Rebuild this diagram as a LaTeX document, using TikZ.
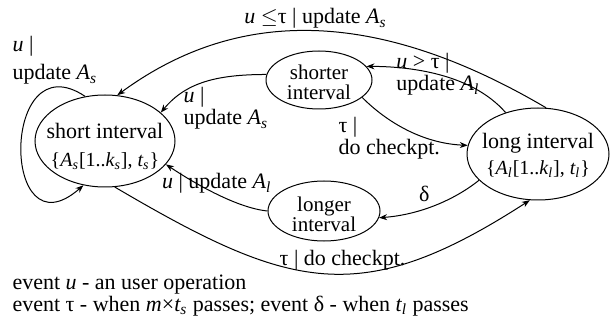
\documentclass[tikz,border=0pt]{standalone}
\usepackage{amsmath}
\usepackage{fontspec}
\setmainfont{Liberation Serif}
\usetikzlibrary{shapes.geometric,arrows.meta}

% italic letter with italic subscript, e.g. A_s
\newcommand{\isub}[2]{$\textit{#1}_{\textit{#2}}$}

\begin{document}
\begin{tikzpicture}[x=0.5pt, y=-0.5pt,
  state/.style={draw, ellipse, inner sep=0pt},
  statetext/.style={align=center, inner sep=0pt},
  lbl/.style={inner sep=0pt, align=left},
  every node/.append style={font=\fontsize{11}{11}\selectfont},
  >={Stealth[length=4pt, width=3pt]}, line width=0.5pt]
\useasboundingbox (0,0) rectangle (611,326);

% the four states
\node[state, minimum width=70pt, minimum height=46pt] (short) at (105,141) {};
\node[state, minimum width=53pt, minimum height=29pt] (shorter) at (319,80) {};
\node[state, minimum width=71pt, minimum height=46pt] (long) at (538,154) {};
\node[state, minimum width=56pt, minimum height=30pt] (longer) at (324,211) {};

\node[statetext, font=\fontsize{11}{14}\selectfont] (shortTxt) at (105,146)
  {short interval\\{\fontsize{10}{14}\selectfont\{\isub{A}{s}[1..\isub{k}{s}], \isub{t}{s}\}}};
\node[statetext, font=\fontsize{10.5}{10}\selectfont] (shorterTxt) at (319,82) {shorter\\interval};
\node[statetext, font=\fontsize{11}{13}\selectfont] (longTxt) at (538,155)
  {long interval\\{\fontsize{10}{13}\selectfont\{\isub{A}{l}[1..\isub{k}{l}], \isub{t}{l}\}}};
\node[statetext, font=\fontsize{10.5}{10}\selectfont] (longerTxt) at (324,214) {longer\\interval};

% transitions
\draw[->] (short.114) .. controls +(-85,-57) and +(-83,73) .. (short.244);
\node[lbl, anchor=north west] (loopLbl) at (12,36) {\textit{u} |\\[3pt]update \isub{A}{s}};

\draw[->] (long.80) .. controls (380,10) and (240,5) .. (short.75)
  node[pos=0.5, above=1pt, inner sep=0pt] {\textit{u} $\leq$τ | update \isub{A}{s}};

\draw[->] (shorter.174) .. controls +(-50,0) and +(25,-30) .. (short.27);
\node[lbl, anchor=north west] (backLbl) at (183,87) {\textit{u} |\\update \isub{A}{s}};

\draw[->] (long.128) .. controls +(-35,-40) and +(40,0) .. (shorter.16)
  node[pos=0.5, lbl] {\textit{u} > τ |\\update \isub{A}{l}};

\draw[->] (shorter.-22) .. controls +(25,25) and +(-45,-2) .. (long.173);
\node[lbl, anchor=north west] (ckptLbl) at (338,117) {τ |\\do checkpt.};

\draw[->] (long.204) .. controls +(-25,20) and +(40,-3) .. (longer.-7)
  node[pos=0.6, above] {δ};

\draw[->] (longer.180) .. controls +(-30,-3) and +(30,20) .. (short.-21)
  node[pos=0.5, above, inner sep=0pt] {\textit{u} | update \isub{A}{l}};

\draw[->] (short.-78) .. controls (290,290) and (360,310) .. (long.260)
  node[pos=0.55, anchor=base, yshift=4pt] {τ | do checkpt.};

% events
\node[lbl, anchor=north west] (events) at (12,274)
  {event \textit{u} - an user operation\\
   event τ - when \textit{m}×\isub{t}{s} passes; event δ - when \isub{t}{l} passes};
\end{tikzpicture}
\end{document}
